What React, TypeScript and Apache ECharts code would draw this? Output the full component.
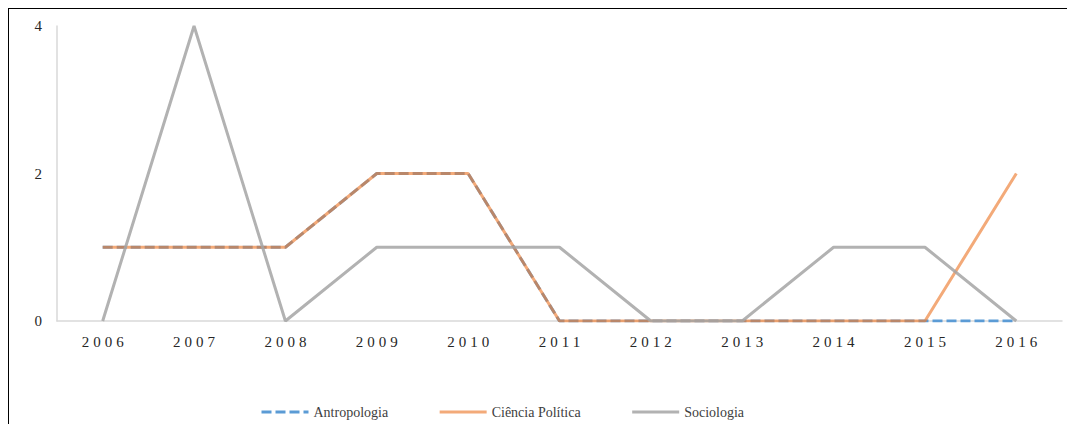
import React, { useEffect, useRef } from "react";
import * as echarts from "echarts";

const years = ["2006", "2007", "2008", "2009", "2010", "2011", "2012", "2013", "2014", "2015", "2016"];
const antropologia = [1, 1, 1, 2, 2, 0, 0, 0, 0, 0, 0];
const cienciaPolitica = [1, 1, 1, 2, 2, 0, 0, 0, 0, 0, 2];
const sociologia = [0, 4, 0, 1, 1, 1, 0, 0, 1, 1, 0];
const yTicks = { min: 0, max: 4, interval: 2 };

const FONT = "Liberation Serif";

export default function App() {
  const ref = useRef<HTMLDivElement>(null);
  useEffect(() => {
    if (!ref.current) return;
    const chart = echarts.init(ref.current, undefined, { renderer: "svg" });
    chart.setOption({
      animation: false,
      backgroundColor: "#fff",
      grid: { left: 48, right: 7, top: 17, bottom: 108 },
      legend: {
        left: 246,
        top: 391,
        itemWidth: 47,
        itemHeight: 14,
        itemGap: 50,
        itemStyle: { opacity: 0 },
        lineStyle: { width: 3 },
        textStyle: { fontFamily: FONT, fontSize: 14, color: "#404040" },
        data: ["Antropologia", "Ciência Política", "Sociologia"],
      },
      xAxis: {
        type: "category",
        data: years,
        boundaryGap: true,
        axisLine: { lineStyle: { color: "#d9d9d9", width: 1.5 } },
        axisTick: { show: false },
        axisLabel: { fontFamily: FONT, fontSize: 15, color: "#262626", margin: 13, padding: [0, 0, 0, 4] },
        splitLine: { show: false },
      },
      yAxis: {
        type: "value",
        min: yTicks.min,
        max: yTicks.max,
        interval: yTicks.interval,
        axisLine: { show: true, lineStyle: { color: "#d9d9d9", width: 1.5 } },
        axisTick: { show: false },
        axisLabel: { fontFamily: FONT, fontSize: 15, color: "#262626", margin: 11 },
        splitLine: { show: false },
      },
      series: [
        {
          name: "Antropologia",
          type: "line",
          data: antropologia,
          symbol: "none",
          itemStyle: { color: "#5b9bd5" },
          lineStyle: { color: "#5b9bd5", width: 3, type: [10, 4] },
        },
        {
          name: "Ciência Política",
          type: "line",
          data: cienciaPolitica,
          symbol: "none",
          itemStyle: { color: "#f3a876" },
          lineStyle: { color: "#ed7d31", width: 3, opacity: 0.65 },
        },
        {
          name: "Sociologia",
          type: "line",
          data: sociologia,
          symbol: "none",
          itemStyle: { color: "#b2b2b2" },
          lineStyle: { color: "#a5a5a5", width: 3, opacity: 0.85 },
        },
      ],
    });
    return () => chart.dispose();
  }, []);
  return (
    <div style={{ border: "1px solid #000", width: 1060, height: 420 }}>
      <style>{`.cht text[style*="15px"]{letter-spacing:4px;}`}</style>
      <div className="cht" ref={ref} style={{ width: 1060, height: 420 }} />
    </div>
  );
}
